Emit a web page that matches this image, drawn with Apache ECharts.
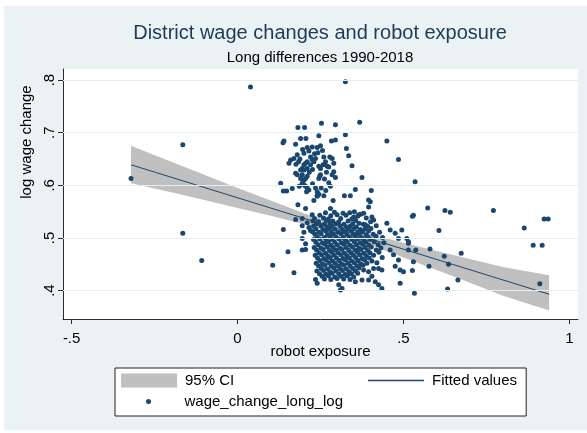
<!DOCTYPE html>
<html>
<head>
<meta charset="utf-8">
<script src="https://cdn.jsdelivr.net/npm/echarts@6/dist/echarts.min.js"></script>
<style>
body { margin: 0; background: #fff; }
#chart {
  width: 587px;
  height: 433px;
  background: #eaf2f3;
  box-shadow: inset 4px 6px 0 #fff, inset 0 -3px 0 #fff;
}
</style>
</head>
<body>
<div id="chart"></div>
<script>
// tick labels, Stata style (no leading zero)
const xTicks = [-0.5, 0, 0.5, 1]
const xTickLabels = ['-.5', '0', '.5', '1']
const yTicks = [0.4, 0.5, 0.6, 0.7, 0.8]
const yTickLabels = ['.4', '.5', '.6', '.7', '.8']

// fitted line end points
const fitX = [-0.321, 0.939]
const fitY = [0.639, 0.393]

// 95% CI band
const bandX = [-0.321, -0.2, -0.1, 0, 0.1, 0.2, 0.3, 0.4, 0.5, 0.6, 0.7, 0.8, 0.939]
const bandLo = [0.604, 0.587, 0.572, 0.557, 0.542, 0.526, 0.508, 0.487, 0.463, 0.439, 0.415, 0.390, 0.362]
const bandHi = [0.675, 0.645, 0.620, 0.595, 0.571, 0.547, 0.526, 0.507, 0.491, 0.475, 0.460, 0.445, 0.429]

// upper group of districts (high wage change)
const upperGroup = [
  [0.325, 0.797], [0.368, 0.720], [0.253, 0.718], [0.295, 0.715], [0.182, 0.710], [0.202, 0.710],
  [0.245, 0.694], [0.190, 0.689], [0.206, 0.689], [0.140, 0.684], [0.137, 0.681], [0.283, 0.684],
  [0.295, 0.686], [0.325, 0.696], [0.450, 0.684], [0.328, 0.670], [0.335, 0.656], [0.485, 0.649],
  [0.345, 0.637], [0.375, 0.615], [0.175, 0.678], [0.210, 0.672], [0.225, 0.673], [0.240, 0.672],
  [0.250, 0.675], [0.200, 0.661], [0.180, 0.658], [0.170, 0.651], [0.160, 0.648], [0.155, 0.642],
  [0.220, 0.654], [0.225, 0.649], [0.230, 0.645], [0.235, 0.651], [0.210, 0.645], [0.205, 0.642],
  [0.200, 0.639], [0.195, 0.632], [0.190, 0.629], [0.200, 0.629], [0.210, 0.632], [0.220, 0.639],
  [0.260, 0.654], [0.265, 0.645], [0.258, 0.639], [0.270, 0.636], [0.250, 0.632], [0.245, 0.636],
  [0.285, 0.651], [0.290, 0.642], [0.175, 0.623], [0.180, 0.620], [0.195, 0.620], [0.190, 0.613],
  [0.200, 0.610], [0.205, 0.613], [0.210, 0.617], [0.250, 0.620], [0.245, 0.613], [0.285, 0.620],
  [0.290, 0.626], [0.195, 0.604], [0.200, 0.601], [0.205, 0.598], [0.210, 0.595], [0.215, 0.591],
  [0.208, 0.588], [0.235, 0.595], [0.240, 0.588], [0.245, 0.583], [0.240, 0.579], [0.130, 0.604],
  [0.138, 0.589], [0.148, 0.589], [0.165, 0.594], [0.215, 0.665], [0.188, 0.650], [0.184, 0.645],
  [0.176, 0.640], [0.232, 0.660], [0.242, 0.662], [0.256, 0.666], [0.216, 0.625], [0.226, 0.630],
  [0.196, 0.668], [0.268, 0.625], [0.262, 0.612], [0.275, 0.605], [0.226, 0.603], [0.186, 0.598],
  [0.252, 0.595], [0.266, 0.590], [0.280, 0.598], [0.275, 0.635], [0.278, 0.654], [0.248, 0.618],
  [0.295, 0.615]
]

// dense lower group
const mainGroup = [
  [0.265, 0.548], [0.292, 0.549], [0.318, 0.547], [0.338, 0.548], [0.352, 0.550],
  [0.248, 0.543], [0.281, 0.542], [0.300, 0.544], [0.327, 0.543], [0.362, 0.541], [0.371, 0.545],
  [0.232, 0.537], [0.259, 0.538], [0.274, 0.536], [0.311, 0.537], [0.344, 0.536], [0.388, 0.538],
  [0.227, 0.532], [0.244, 0.531], [0.268, 0.533], [0.287, 0.532], [0.305, 0.531], [0.333, 0.532], [0.356, 0.533], [0.401, 0.531],
  [0.238, 0.527], [0.262, 0.526], [0.279, 0.528], [0.296, 0.527], [0.321, 0.526], [0.347, 0.527], [0.366, 0.528], [0.379, 0.526],
  [0.229, 0.522], [0.251, 0.523], [0.270, 0.521], [0.284, 0.522], [0.309, 0.523], [0.328, 0.521], [0.339, 0.522], [0.358, 0.521], [0.392, 0.522], [0.418, 0.523],
  [0.236, 0.517], [0.257, 0.516], [0.276, 0.518], [0.293, 0.517], [0.315, 0.516], [0.334, 0.517], [0.351, 0.518], [0.370, 0.516], [0.384, 0.517], [0.402, 0.518],
  [0.226, 0.512], [0.245, 0.511], [0.266, 0.513], [0.281, 0.512], [0.302, 0.511], [0.324, 0.512], [0.343, 0.513], [0.362, 0.511], [0.377, 0.512], [0.395, 0.513], [0.428, 0.511],
  [0.233, 0.507], [0.252, 0.508], [0.271, 0.506], [0.289, 0.507], [0.312, 0.508], [0.330, 0.506], [0.349, 0.507], [0.367, 0.508], [0.388, 0.506], [0.409, 0.507],
  [0.240, 0.502], [0.262, 0.501], [0.279, 0.503], [0.297, 0.502], [0.318, 0.501], [0.337, 0.502], [0.356, 0.503], [0.373, 0.501], [0.393, 0.502], [0.417, 0.503], [0.437, 0.501],
  [0.229, 0.497], [0.248, 0.498], [0.268, 0.496], [0.285, 0.497], [0.306, 0.498], [0.325, 0.496], [0.344, 0.497], [0.361, 0.498], [0.381, 0.496], [0.400, 0.497],
  [0.236, 0.492], [0.256, 0.491], [0.274, 0.493], [0.293, 0.492], [0.313, 0.491], [0.331, 0.492], [0.352, 0.493], [0.369, 0.491], [0.387, 0.492], [0.412, 0.493], [0.441, 0.491],
  [0.243, 0.487], [0.263, 0.488], [0.281, 0.486], [0.300, 0.487], [0.320, 0.488], [0.339, 0.486], [0.358, 0.487], [0.377, 0.488], [0.396, 0.486], [0.424, 0.487],
  [0.231, 0.482], [0.251, 0.481], [0.270, 0.483], [0.288, 0.482], [0.308, 0.481], [0.327, 0.482], [0.346, 0.483], [0.366, 0.481], [0.384, 0.482], [0.403, 0.483], [0.432, 0.481],
  [0.238, 0.477], [0.258, 0.478], [0.277, 0.476], [0.296, 0.477], [0.315, 0.478], [0.335, 0.476], [0.354, 0.477], [0.372, 0.478], [0.392, 0.476], [0.418, 0.477],
  [0.245, 0.472], [0.265, 0.471], [0.284, 0.473], [0.303, 0.472], [0.322, 0.471], [0.342, 0.472], [0.361, 0.473], [0.380, 0.471], [0.399, 0.472], [0.426, 0.473],
  [0.234, 0.467], [0.253, 0.468], [0.272, 0.466], [0.291, 0.467], [0.311, 0.468], [0.330, 0.466], [0.349, 0.467], [0.368, 0.468], [0.388, 0.466], [0.410, 0.467],
  [0.241, 0.462], [0.260, 0.461], [0.279, 0.463], [0.298, 0.462], [0.318, 0.461], [0.337, 0.462], [0.356, 0.463], [0.375, 0.461], [0.397, 0.462], [0.436, 0.463],
  [0.248, 0.457], [0.267, 0.458], [0.286, 0.456], [0.306, 0.457], [0.325, 0.458], [0.344, 0.456], [0.363, 0.457], [0.383, 0.458], [0.405, 0.456],
  [0.237, 0.452], [0.256, 0.451], [0.275, 0.453], [0.294, 0.452], [0.313, 0.451], [0.333, 0.452], [0.352, 0.453], [0.371, 0.451], [0.390, 0.452], [0.420, 0.453],
  [0.244, 0.447], [0.263, 0.448], [0.282, 0.446], [0.301, 0.447], [0.321, 0.448], [0.340, 0.446], [0.359, 0.447], [0.378, 0.448],
  [0.252, 0.442], [0.271, 0.441], [0.290, 0.443], [0.309, 0.442], [0.328, 0.441], [0.347, 0.442], [0.366, 0.443],
  [0.239, 0.437], [0.259, 0.438], [0.278, 0.436], [0.297, 0.437], [0.316, 0.438], [0.336, 0.436], [0.355, 0.437],
  [0.247, 0.432], [0.266, 0.431], [0.285, 0.433], [0.305, 0.432], [0.324, 0.431], [0.343, 0.432], [0.362, 0.433],
  [0.255, 0.427], [0.274, 0.428], [0.293, 0.426], [0.312, 0.427], [0.331, 0.428], [0.350, 0.426],
  [0.262, 0.422], [0.281, 0.421], [0.300, 0.423], [0.320, 0.422], [0.339, 0.421]
]

// scattered districts around both groups
const sideGroup = [
  [0.322, 0.580], [0.260, 0.580], [0.240, 0.580], [0.230, 0.571], [0.288, 0.571], [0.340, 0.580],
  [0.355, 0.592], [0.403, 0.590], [0.395, 0.572], [0.182, 0.563], [0.205, 0.556], [0.280, 0.556],
  [0.225, 0.544], [0.175, 0.535], [0.195, 0.537], [0.400, 0.569], [0.395, 0.559], [0.138, 0.516],
  [0.195, 0.523], [0.210, 0.529], [0.200, 0.511], [0.215, 0.520], [0.220, 0.514], [0.195, 0.499],
  [0.205, 0.489], [0.152, 0.474], [0.195, 0.477], [0.205, 0.478], [0.106, 0.448], [0.170, 0.434],
  [0.235, 0.421], [0.240, 0.414], [0.305, 0.411], [0.310, 0.401], [0.350, 0.540], [0.365, 0.544],
  [0.380, 0.547], [0.405, 0.540], [0.410, 0.534], [0.385, 0.525], [0.450, 0.528], [0.460, 0.515],
  [0.475, 0.509], [0.495, 0.515], [0.485, 0.499], [0.510, 0.499], [0.515, 0.490], [0.460, 0.477],
  [0.470, 0.468], [0.485, 0.458], [0.475, 0.446], [0.490, 0.439], [0.500, 0.436], [0.490, 0.414],
  [0.380, 0.439], [0.395, 0.436], [0.410, 0.442], [0.425, 0.442], [0.435, 0.439], [0.405, 0.427],
  [0.415, 0.417], [0.425, 0.411], [0.435, 0.404], [0.355, 0.417], [0.375, 0.420], [0.395, 0.420],
  [0.315, 0.404], [0.535, 0.607], [0.573, 0.557], [0.527, 0.541], [0.530, 0.543], [0.625, 0.552],
  [0.641, 0.549], [0.771, 0.552], [0.924, 0.536], [0.936, 0.536], [0.864, 0.519], [0.607, 0.514],
  [0.515, 0.493], [0.891, 0.486], [0.918, 0.486], [0.515, 0.477], [0.537, 0.477], [0.580, 0.479],
  [0.674, 0.471], [0.623, 0.465], [0.636, 0.450], [0.530, 0.455], [0.527, 0.438], [0.577, 0.446],
  [0.664, 0.420], [0.911, 0.413], [0.633, 0.403], [0.533, 0.395],
  [0.039, 0.787], [-0.165, 0.677], [-0.165, 0.509], [-0.108, 0.457], [-0.321, 0.613]
]

const navy = '#1a476f'
const font = 'Liberation Sans, Arial, sans-serif'
const axisColor = '#2b2b2b'
const legendText = { fontSize: 15, fontFamily: font, color: '#000', padding: [0, 0, 0, 3] }

function tickText (ticks, labels, v) {
  let best = 0
  ticks.forEach((t, i) => { if (Math.abs(t - v) < Math.abs(ticks[best] - v)) best = i })
  return labels[best]
}

let chart = echarts.init(document.getElementById('chart'))
let option = {
  animation: false,
  graphic: [
    {
      type: 'text', x: 320, y: 23,
      style: { text: 'District wage changes and robot exposure', textAlign: 'center', fontSize: 20, fontFamily: font, fill: '#1c3a5a' }
    },
    {
      type: 'text', x: 320, y: 50,
      style: { text: 'Long differences 1990-2018', textAlign: 'center', fontSize: 15, fontFamily: font, fill: '#000' }
    }
  ],
  grid: {
    left: 63, top: 69, right: 9, bottom: 114,
    show: true, backgroundColor: '#fff', borderWidth: 0
  },
  xAxis: {
    type: 'value', min: -0.526, max: 1.026,
    name: 'robot exposure', nameLocation: 'middle', nameGap: 25, nameMoveOverlap: false,
    nameTextStyle: { fontSize: 15, fontFamily: font, color: '#000' },
    axisLine: { onZero: false, lineStyle: { color: axisColor } },
    axisTick: { customValues: xTicks, length: 5, lineStyle: { color: axisColor } },
    axisLabel: {
      customValues: xTicks, margin: 12, fontSize: 15, fontFamily: font, color: '#000',
      formatter: v => tickText(xTicks, xTickLabels, v)
    },
    splitLine: { show: false }
  },
  yAxis: {
    type: 'value', min: 0.346, max: 0.821,
    name: 'log wage change', nameLocation: 'middle', nameGap: 29, nameMoveOverlap: false,
    nameTextStyle: { fontSize: 15, fontFamily: font, color: '#000', padding: [0, 0, 0, 104] },
    axisLine: { show: true, onZero: false, lineStyle: { color: axisColor } },
    axisTick: { show: true, customValues: yTicks, length: 5, lineStyle: { color: axisColor } },
    axisLabel: {
      customValues: yTicks, rotate: 90, margin: 6, fontSize: 15, fontFamily: font, color: '#000',
      formatter: v => tickText(yTicks, yTickLabels, v)
    },
    splitLine: { show: false }
  },
  legend: [
    {
      // this one also draws the frame around all three keys
      data: [{ name: '95% CI', icon: 'rect', itemStyle: { color: '#c0c0c0' } }],
      left: 115, top: 368,
      padding: [5, 292, 28, 6],
      itemWidth: 56, itemHeight: 14,
      borderColor: '#222', borderWidth: 1, backgroundColor: '#fff',
      textStyle: legendText,
      selectedMode: false
    },
    {
      data: [{ name: 'Fitted values', icon: 'rect', itemStyle: { color: navy } }],
      left: 368, top: 373, z: 5,
      padding: 0,
      itemWidth: 56, itemHeight: 1.4,
      textStyle: legendText,
      selectedMode: false
    },
    {
      data: [{ name: 'wage_change_long_log', icon: 'circle', itemStyle: { color: navy } }],
      left: 146, top: 394, z: 5,
      padding: 0,
      itemWidth: 56, itemHeight: 5,
      textStyle: legendText,
      selectedMode: false
    }
  ],
  series: [
    {
      // invisible carrier for the horizontal grid lines at the y ticks
      type: 'line', z: 1, silent: true, symbol: 'none',
      data: fitX.map((x, i) => [x, fitY[i]]),
      lineStyle: { opacity: 0 },
      markLine: {
        silent: true, symbol: 'none', label: { show: false },
        lineStyle: { color: '#e4edef', width: 1, type: 'solid' },
        data: yTicks.map(v => ({ yAxis: v }))
      }
    },
    {
      name: '95% CI', type: 'custom', z: 2, silent: true,
      data: bandX.map((x, i) => [x, bandLo[i], bandHi[i]]),
      encode: { x: 0, y: [1, 2] },
      itemStyle: { color: '#c0c0c0' },
      renderItem (params, api) {
        if (params.dataIndex !== 0) return
        let top = bandX.map((x, i) => api.coord([x, bandHi[i]]))
        let bottom = bandX.map((x, i) => api.coord([x, bandLo[i]])).reverse()
        return { type: 'polygon', shape: { points: top.concat(bottom) }, style: { fill: '#c0c0c0' } }
      }
    },
    {
      name: 'Fitted values', type: 'line', z: 3, symbol: 'none',
      data: fitX.map((x, i) => [x, fitY[i]]),
      lineStyle: { color: navy, width: 1 },
      itemStyle: { color: navy }
    },
    {
      name: 'wage_change_long_log', type: 'scatter', z: 4,
      symbol: 'circle', symbolSize: 5,
      data: upperGroup.concat(mainGroup, sideGroup),
      itemStyle: { color: navy, opacity: 1 }
    }
  ]
}
chart.setOption(option)
</script>
</body>
</html>
